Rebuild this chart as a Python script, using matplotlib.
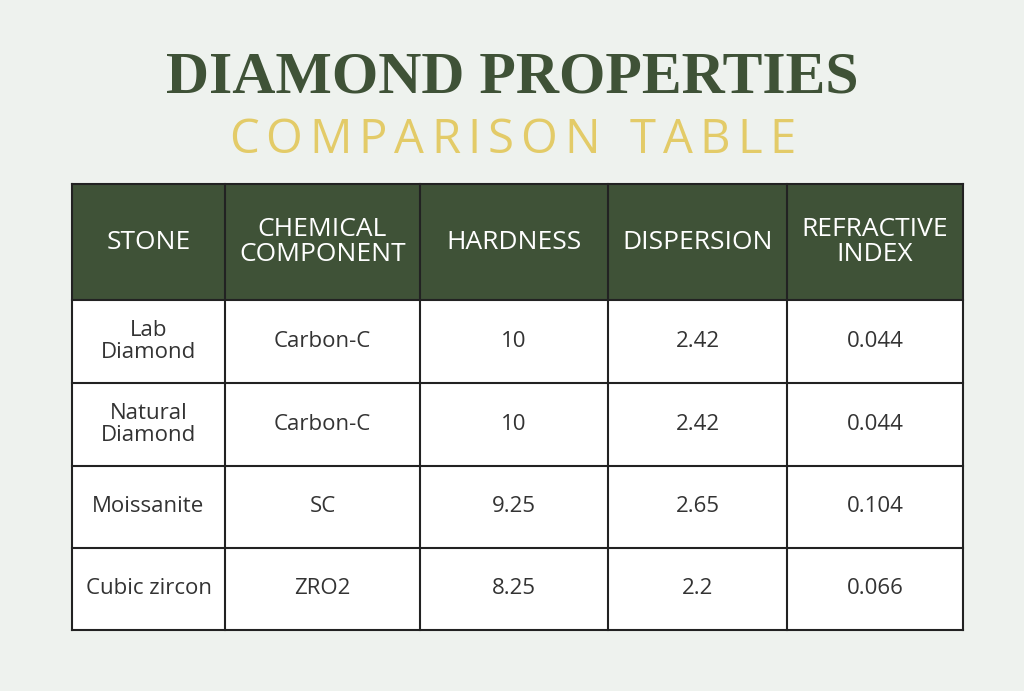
import matplotlib
matplotlib.use("Agg")
import matplotlib.pyplot as plt
from matplotlib.patches import Rectangle

# table content
headers = ["STONE", "CHEMICAL\nCOMPONENT", "HARDNESS", "DISPERSION", "REFRACTIVE\nINDEX"]
stones = ["Lab\nDiamond", "Natural\nDiamond", "Moissanite", "Cubic zircon"]
chemical = ["Carbon-C", "Carbon-C", "SC", "ZRO2"]
hardness = ["10", "10", "9.25", "8.25"]
dispersion = ["2.42", "2.42", "2.65", "2.2"]
refractive = ["0.044", "0.044", "0.104", "0.066"]

bg = "#eef2ee"
green = "#3f5237"
gold = "#e3cb68"
txt = "#333333"

col_x = [72, 225, 420, 608, 787, 963]
row_y = [184, 300, 383, 466, 548, 630]

fig = plt.figure(figsize=(10.24, 6.91), dpi=100, facecolor=bg)
ax = fig.add_axes([0, 0, 1, 1])
ax.set_xlim(0, 1024)
ax.set_ylim(691, 0)
ax.axis("off")

ax.text(512, 78, "DIAMOND PROPERTIES", ha="center", va="center", fontsize=43,
        fontweight="bold", family="Liberation Serif", color=green)

# letter-spaced subtitle
sub = "COMPARISON TABLE"
fig.canvas.draw()
r = fig.canvas.get_renderer()
widths = []
for ch in sub:
    t = ax.text(0, 0, ch if ch != " " else "I", fontsize=34, family="Open Sans")
    w = t.get_window_extent(r).width
    widths.append(w if ch != " " else w * 1.2)
    t.remove()
track = 7
total = sum(widths) + track * (len(sub) - 1)
x = 512 - total / 2
for ch, w in zip(sub, widths):
    ax.text(x, 140, ch, ha="left", va="center", fontsize=34, family="Open Sans", color=gold)
    x += w + track

# header background
ax.add_patch(Rectangle((col_x[0], row_y[0]), col_x[-1] - col_x[0], row_y[1] - row_y[0],
                       facecolor=green, edgecolor="none"))
ax.add_patch(Rectangle((col_x[0], row_y[1]), col_x[-1] - col_x[0], row_y[-1] - row_y[1],
                       facecolor="white", edgecolor="none"))

for i, h in enumerate(headers):
    cx = (col_x[i] + col_x[i + 1]) / 2
    ax.text(cx, (row_y[0] + row_y[1]) / 2, h, ha="center", va="center", fontsize=19,
            family="Open Sans", color="white", linespacing=1.0)

cols = [stones, chemical, hardness, dispersion, refractive]
for j in range(len(stones)):
    cy = (row_y[j + 1] + row_y[j + 2]) / 2
    for i, c in enumerate(cols):
        cx = (col_x[i] + col_x[i + 1]) / 2
        ax.text(cx, cy, c[j], ha="center", va="center", fontsize=16,
                family="Open Sans", color=txt, linespacing=1.05)

# grid lines
for xv in col_x:
    ax.plot([xv, xv], [row_y[0], row_y[-1]], color="#222222", lw=1.5)
for yv in row_y:
    ax.plot([col_x[0], col_x[-1]], [yv, yv], color="#222222", lw=1.5)

fig.savefig("out.png", dpi=100, facecolor=bg)
